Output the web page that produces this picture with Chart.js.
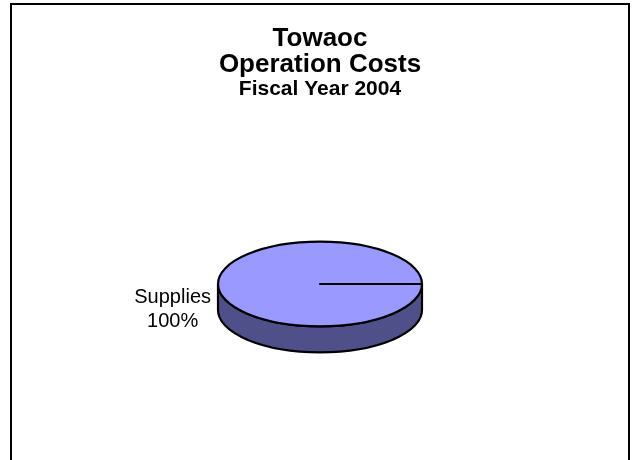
<!DOCTYPE html>
<html>
<head>
<meta charset="utf-8">
<title>Towaoc Operation Costs</title>
<script src="https://cdn.jsdelivr.net/npm/chart.js@4/dist/chart.umd.min.js"></script>
<style>
  html, body { margin: 0; padding: 0; background: #fff; overflow: hidden; }
  #wrap { position: relative; width: 632px; height: 460px; }
  #frame {
    position: absolute; left: 10px; top: 3px;
    width: 620px; height: 500px;
    box-sizing: border-box; border: 2px solid #000;
    pointer-events: none;
  }
  canvas { position: absolute; left: 0; top: 0; }
</style>
</head>
<body>
<div id="wrap">
  <canvas id="myChart" width="632" height="460"></canvas>
  <div id="frame"></div>
</div>
<script>
// data
let categories = ['Supplies'];
let costs = [100];
let titleLines = ['Towaoc', 'Operation Costs'];
let subTitle = 'Fiscal Year 2004';

// look
const topColor = '#9999ff';
const sideColor = '#4f4f8a';
const tilt = 0.415;   // vertical squash of the pie
const depth = 26;     // thickness of the pie

// draws the pie as a flat 3d disc, using the arcs chart.js laid out
const pie3d = {
  id: 'pie3d',
  beforeDatasetsDraw(chart) {
    const ctx = chart.ctx;
    const meta = chart.getDatasetMeta(0);
    meta.data.forEach(function (arc) {
      const p = arc.getProps(['x', 'y', 'outerRadius', 'startAngle', 'endAngle']);
      const rx = p.outerRadius;
      const ry = p.outerRadius * tilt;

      ctx.save();
      ctx.lineWidth = 2.2;
      ctx.strokeStyle = '#000';
      ctx.lineJoin = 'round';

      // side wall (front half)
      ctx.beginPath();
      ctx.moveTo(p.x - rx, p.y);
      ctx.lineTo(p.x - rx, p.y + depth);
      ctx.ellipse(p.x, p.y + depth, rx, ry, 0, Math.PI, 0, true);
      ctx.lineTo(p.x + rx, p.y);
      ctx.ellipse(p.x, p.y, rx, ry, 0, 0, Math.PI, false);
      ctx.closePath();
      ctx.fillStyle = sideColor;
      ctx.fill();
      ctx.stroke();

      // top face
      ctx.beginPath();
      ctx.moveTo(p.x, p.y);
      ctx.ellipse(p.x, p.y, rx, ry, 0, p.startAngle, p.endAngle, false);
      ctx.closePath();
      ctx.fillStyle = topColor;
      ctx.fill();
      ctx.stroke();
      ctx.restore();
    });
    return false;
  },
  afterDraw(chart) {
    // slice labels: name and percent, outside the pie
    const ctx = chart.ctx;
    const meta = chart.getDatasetMeta(0);
    const values = chart.data.datasets[0].data;
    const total = values.reduce((a, b) => a + b, 0);
    meta.data.forEach(function (arc, i) {
      const p = arc.getProps(['x', 'y', 'outerRadius', 'startAngle', 'endAngle']);
      const mid = (p.startAngle + p.endAngle) / 2;
      const rx = p.outerRadius;
      const ry = p.outerRadius * tilt;
      const lines = [chart.data.labels[i], Math.round(values[i] / total * 100) + '%'];

      ctx.save();
      ctx.font = '20px "Liberation Sans", Arial, sans-serif';
      ctx.fillStyle = '#000';
      ctx.textAlign = 'center';
      ctx.textBaseline = 'middle';
      const w = Math.max.apply(null, lines.map(l => ctx.measureText(l).width));
      const ex = p.x + (rx + 7) * Math.cos(mid);
      const ey = p.y + ry * Math.sin(mid) + depth - 1;
      const cx = Math.cos(mid) < 0 ? ex - w / 2 : ex + w / 2;
      lines.forEach(function (l, k) {
        ctx.fillText(l, cx, ey - 12 + k * 24);
      });
      ctx.restore();
    });
  }
};

new Chart(document.getElementById('myChart'), {
  type: 'pie',
  data: {
    labels: categories,
    datasets: [{
      data: costs,
      backgroundColor: topColor,
      borderColor: '#000',
      borderWidth: 2,
      radius: 102
    }]
  },
  options: {
    responsive: false,
    animation: false,
    rotation: 90,
    layout: { padding: { left: 8, right: 0, top: 0, bottom: 0 } },
    plugins: {
      legend: { display: false },
      tooltip: { enabled: false },
      title: {
        display: true,
        text: titleLines,
        color: '#000',
        font: { family: '"Liberation Sans", Arial, sans-serif', size: 26, weight: 'bold', lineHeight: 1 },
        padding: { top: 26, bottom: 0 }
      },
      subtitle: {
        display: true,
        text: subTitle,
        color: '#000',
        font: { family: '"Liberation Sans", Arial, sans-serif', size: 21, weight: 'bold', lineHeight: 1 },
        padding: { top: 1, bottom: 8 }
      }
    }
  },
  plugins: [pie3d]
});
</script>
</body>
</html>
